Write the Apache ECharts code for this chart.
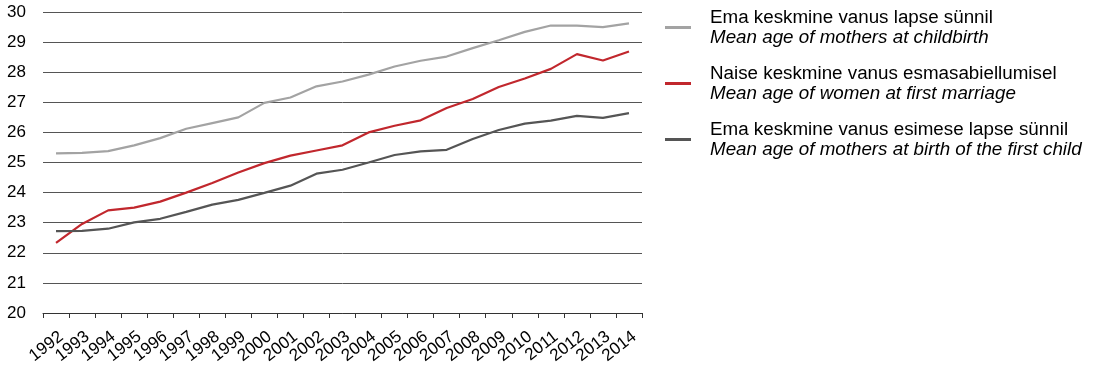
<!DOCTYPE html>
<html>
<head>
<meta charset="utf-8">
<script src="https://cdn.jsdelivr.net/npm/echarts@6/dist/echarts.min.js"></script>
<style>
  html, body { margin: 0; padding: 0; background: #fff; }
  #chart { width: 1098px; height: 368px; }
</style>
</head>
<body>
<div id="chart"></div>
<script>
var years = ['1992', '1993', '1994', '1995', '1996', '1997', '1998', '1999', '2000', '2001', '2002',
    '2003', '2004', '2005', '2006', '2007', '2008', '2009', '2010', '2011', '2012', '2013', '2014'];

var childbirth = [25.30, 25.32, 25.38, 25.57, 25.81, 26.12, 26.31, 26.50, 26.98, 27.16, 27.53,
    27.69, 27.92, 28.19, 28.38, 28.52, 28.80, 29.06, 29.34, 29.55, 29.55, 29.50, 29.62];
var marriage = [22.33, 22.96, 23.41, 23.50, 23.70, 24.00, 24.32, 24.67, 24.98, 25.23, 25.40,
    25.57, 26.00, 26.22, 26.40, 26.81, 27.11, 27.51, 27.79, 28.11, 28.60, 28.39, 28.69];
var firstChild = [22.72, 22.73, 22.80, 23.01, 23.13, 23.36, 23.60, 23.76, 23.99, 24.23, 24.63,
    24.76, 25.00, 25.25, 25.37, 25.42, 25.78, 26.08, 26.29, 26.39, 26.55, 26.48, 26.64];

var names = [
    ['Ema keskmine vanus lapse sünnil', 'Mean age of mothers at childbirth'],
    ['Naise keskmine vanus esmasabiellumisel', 'Mean age of women at first marriage'],
    ['Ema keskmine vanus esimese lapse sünnil', 'Mean age of mothers at birth of the first child']
];
var colors = ['#a3a3a3', '#c1272d', '#555555'];

var font = 'Liberation Sans, Arial, sans-serif';

function lineSeries(i, data) {
    return {
        name: names[i][0],
        type: 'line',
        data: data,
        symbol: 'none',
        lineStyle: { color: colors[i], width: 2.2 },
        itemStyle: { color: colors[i] },
        animation: false
    };
}

var myChart = echarts.init(document.getElementById('chart'));
var option = {
    animation: false,
    grid: { left: 43, right: 456, top: 12, bottom: 55 },
    legend: {
        orient: 'vertical',
        left: 660,
        top: 3,
        icon: 'rect',
        itemWidth: 26,
        itemHeight: 3,
        itemGap: 17,
        data: names.map(function (n) { return n[0]; }),
        formatter: function (name) {
            for (var i = 0; i < names.length; i++) {
                if (names[i][0] === name) {
                    return '{a|' + names[i][0] + '}\n{b|' + names[i][1] + '}';
                }
            }
            return name;
        },
        textStyle: {
            padding: [0, 0, 0, 14],
            rich: {
                a: { fontFamily: font, fontSize: 18.8, color: '#000', lineHeight: 20 },
                b: { fontFamily: font, fontSize: 18.8, color: '#000', fontStyle: 'italic', lineHeight: 20 }
            }
        }
    },
    xAxis: {
        type: 'category',
        data: years,
        boundaryGap: true,
        axisLine: { lineStyle: { color: '#333', width: 1 } },
        axisTick: { show: true, length: 5, lineStyle: { color: '#333' } },
        axisLabel: {
            interval: 0,
            rotate: 38,
            margin: 15,
            verticalAlign: 'top',
            fontFamily: font,
            fontSize: 17,
            color: '#000'
        }
    },
    yAxis: {
        type: 'value',
        min: 20,
        max: 30,
        interval: 1,
        axisLine: { show: false },
        axisTick: { show: false },
        axisLabel: { fontFamily: font, fontSize: 17, color: '#000', margin: 17 },
        splitLine: { lineStyle: { color: '#555', width: 1 } }
    },
    series: [
        lineSeries(0, childbirth),
        lineSeries(1, marriage),
        lineSeries(2, firstChild)
    ]
};
myChart.setOption(option);
</script>
</body>
</html>
